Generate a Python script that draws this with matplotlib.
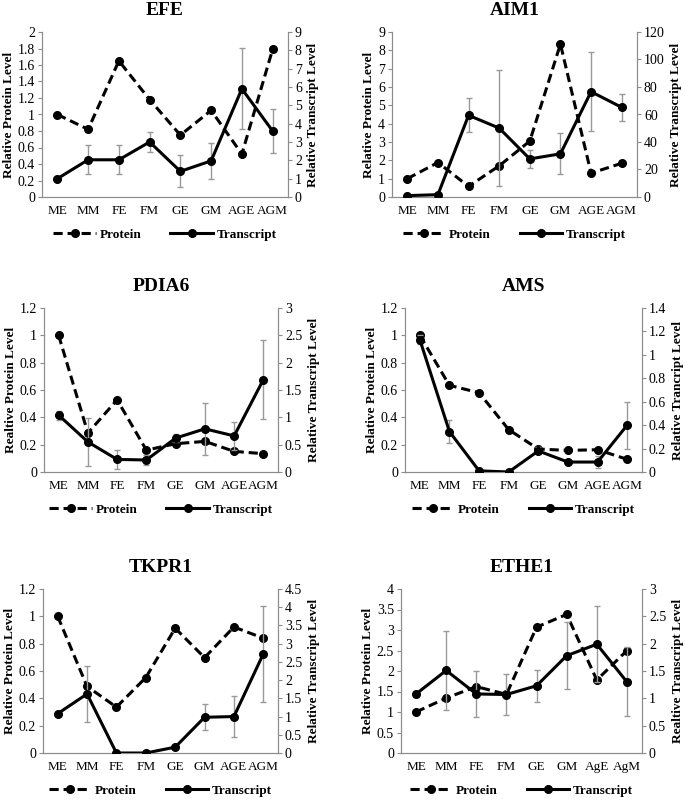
import matplotlib
matplotlib.use('Agg')
import numpy as np
import matplotlib.pyplot as plt
from matplotlib.ticker import FormatStrFormatter, MultipleLocator

plt.rcParams['font.family'] = ['Liberation Serif', 'DejaVu Serif']

cats = ['ME', 'MM', 'FE', 'FM', 'GE', 'GM', 'AGE', 'AGM']
cats_ethe1 = ['ME', 'MM', 'FE', 'FM', 'GE', 'GM', 'AgE', 'AgM']

efe_protein = [1.0, 0.82, 1.65, 1.18, 0.75, 1.05, 0.52, 1.79]
efe_transcript = [1.0, 2.03, 2.03, 3.0, 1.4, 1.97, 5.9, 3.6]
efe_err = [0, 0.79, 0.79, 0.53, 0.88, 1.0, 2.2, 1.19]

aim1_protein = [1.0, 1.88, 0.58, 1.7, 3.05, 8.34, 1.3, 1.84]
aim1_transcript = [1.0, 1.7, 59.4, 50.1, 27.7, 31.4, 76.6, 65.2]
aim1_err = [0, 0, 12.4, 42, 6.7, 15, 28.5, 10]

pdia6_protein = [1.0, 0.285, 0.528, 0.16, 0.207, 0.224, 0.151, 0.134]
pdia6_transcript = [1.04, 0.55, 0.23, 0.22, 0.62, 0.79, 0.66, 1.69]
pdia6_err = [0.08, 0.44, 0.17, 0.1, 0.08, 0.47, 0.25, 0.72]

ams_protein = [1.0, 0.634, 0.58, 0.31, 0.168, 0.158, 0.163, 0.093]
ams_transcript = [1.13, 0.345, 0.01, 0.0, 0.18, 0.085, 0.085, 0.40]
ams_err = [0.04, 0.1, 0, 0, 0.03, 0, 0.05, 0.2]

tkpr1_protein = [1.0, 0.487, 0.336, 0.552, 0.913, 0.698, 0.922, 0.84]
tkpr1_transcript = [1.08, 1.62, 0.0, 0.0, 0.16, 0.98, 1.0, 2.72]
tkpr1_err = [0, 0.76, 0, 0, 0, 0.36, 0.57, 1.32]

ethe1_protein = [1.0, 1.34, 1.62, 1.43, 3.07, 3.38, 1.78, 2.5]
ethe1_transcript = [1.08, 1.51, 1.08, 1.07, 1.23, 1.78, 1.99, 1.30]
ethe1_err = [0.05, 0.73, 0.42, 0.37, 0.29, 0.61, 0.69, 0.63]

W, H = 685, 800
fig = plt.figure(figsize=(W / 100, H / 100), dpi=100)


def panel(box, title, labels, prot, trans, err, lmax, lstep, rmax, rstep,
          llabel, rlabel):
    x0, y0, x1, y1 = box  # pixel box of plot area (top-left origin)
    ax = fig.add_axes([x0 / W, 1 - y1 / H, (x1 - x0) / W, (y1 - y0) / H])
    ax2 = ax.twinx()
    x = np.arange(len(labels))

    lp, = ax.plot(x, prot, color='black', lw=2.2, ls=(0, (3, 1.6)),
                  marker='o', ms=5.5, zorder=3)
    ax2.errorbar(x, trans, yerr=err, fmt='none', ecolor='#999999',
                 elinewidth=1, capsize=2.5, capthick=1, zorder=2)
    lt, = ax2.plot(x, trans, color='black', lw=2.2, marker='o', ms=5.5,
                   zorder=3)

    ax.set_xlim(-0.5, len(labels) - 0.5)
    ax.set_ylim(0, lmax)
    ax2.set_ylim(0, rmax)
    ax.yaxis.set_major_locator(MultipleLocator(lstep))
    ax2.yaxis.set_major_locator(MultipleLocator(rstep))
    ax.yaxis.set_major_formatter(FormatStrFormatter('%g'))
    ax2.yaxis.set_major_formatter(FormatStrFormatter('%g'))
    ax.set_xticks(x)
    ax.set_xticklabels(labels, fontsize=9.5)

    for a in (ax, ax2):
        a.spines['top'].set_visible(False)
        for s in ('left', 'right', 'bottom'):
            a.spines[s].set_color('#8c8c8c')
        a.tick_params(axis='y', labelsize=10, length=3, color='#8c8c8c',
                      pad=2)
        a.tick_params(axis='x', length=0, pad=6)
    ax.patch.set_visible(False)

    ax.set_ylabel(llabel, fontsize=9.5, fontweight='bold', labelpad=2)
    ax2.set_ylabel(rlabel, fontsize=9.5, fontweight='bold', labelpad=4)
    ax.set_title(title, fontsize=14, fontweight='bold', pad=12)

    ax.legend([lp, lt], ['Protein', 'Transcript'], loc='center',
              bbox_to_anchor=(0.5, -0.23), ncol=2, frameon=False,
              prop={'weight': 'bold', 'size': 9.5}, handlelength=3.2,
              handletextpad=0.3, columnspacing=2.2)


panel((42, 32, 288, 197), 'EFE', cats, efe_protein, efe_transcript, efe_err,
      2, 0.2, 9, 1, 'Relative Protein Level', 'Relative Transcript Level')
panel((392, 32, 637, 197), 'AIM1', cats, aim1_protein, aim1_transcript,
      aim1_err, 9, 1, 120, 20, 'Relative Protein Level',
      'Relative Transcript Level')
panel((44, 308, 278, 472), 'PDIA6', cats, pdia6_protein, pdia6_transcript,
      pdia6_err, 1.2, 0.2, 3, 0.5, 'Realtive Protein Level',
      'Relative Transcript Level')
panel((405, 308, 642, 472), 'AMS', cats, ams_protein, ams_transcript,
      ams_err, 1.2, 0.2, 1.4, 0.2, 'Relative Protein Level',
      'Relative Trancript Level')
panel((43, 589, 278, 753), 'TKPR1', cats, tkpr1_protein, tkpr1_transcript,
      tkpr1_err, 1.2, 0.2, 4.5, 0.5, 'Relative Protein Level',
      'Relative Transcript Level')
panel((401, 589, 642, 753), 'ETHE1', cats_ethe1, ethe1_protein,
      ethe1_transcript, ethe1_err, 4, 0.5, 3, 0.5, 'Relative Protein Level',
      'Realtive Transcript Level')

fig.savefig('out.png', dpi=100)
